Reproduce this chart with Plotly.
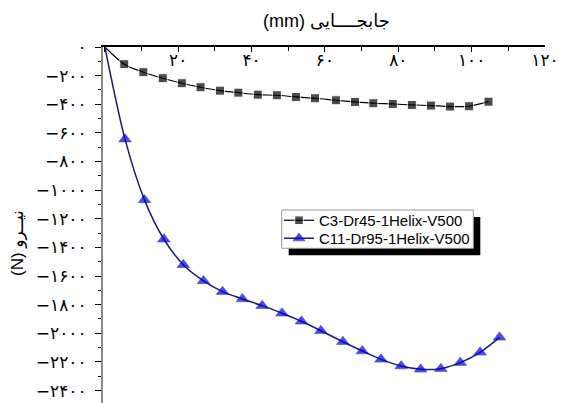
import plotly.graph_objects as go

# ---- data ----
x_c3 = [0, 5.3, 10.5, 15.8, 21.0, 26.1, 31.4, 36.4, 41.7, 46.9, 52.1, 57.3, 63.0, 68.2,
        73.2, 78.5, 83.7, 88.9, 94.1, 99.3, 104.6]
y_c3 = [0, -120, -176, -218, -253, -281, -305, -319, -333, -337, -349, -358, -372, -384,
        -393, -398, -405, -409, -416, -414, -382]

x_c11 = [0, 5.5, 10.8, 16.1, 21.4, 26.9, 32.1, 37.5, 42.9, 48.3, 53.6, 58.9, 64.9, 70.2,
         75.3, 80.8, 86.1, 91.6, 96.9, 102.3, 107.6]
y_c11 = [0, -644, -1068, -1343, -1521, -1634, -1709, -1760, -1807, -1860, -1916, -1982,
         -2059, -2124, -2182, -2229, -2252, -2247, -2205, -2133, -2028]

name_c3 = "C3-Dr45-1Helix-V500"
name_c11 = "C11-Dr95-1Helix-V500"

x_tickvals = [0, 20, 40, 60, 80, 100, 120]
x_ticktext = ["", "۲۰", "۴۰", "۶۰", "۸۰", "۱۰۰", "۱۲۰"]
y_tickvals = [0, -200, -400, -600, -800, -1000, -1200, -1400, -1600, -1800, -2000, -2200, -2400]
y_ticktext = ["۰", "−۲۰۰", "−۴۰۰", "−۶۰۰", "−۸۰۰", "−۱۰۰۰", "−۱۲۰۰", "−۱۴۰۰", "−۱۶۰۰",
              "−۱۸۰۰", "−۲۰۰۰", "−۲۲۰۰", "−۲۴۰۰"]

x_title = "(mm) جابجــــایی"
y_title = "(N) نیــرو"

W, H = 561, 403
L, R, T, B = 103, 16, 47, 0

def px2paper_x(px):
    return (px - L) / (W - L - R)

def px2paper_y(py):
    return (H - B - py) / (H - T - B)

fig = go.Figure()
fig.add_trace(go.Scatter(
    x=x_c3, y=y_c3, name=name_c3, mode="lines+markers", legend="legend",
    line=dict(color="black", width=1.2, shape="spline", smoothing=0.8),
    marker=dict(symbol="square", color="black", size=[0] + [9] * (len(x_c3) - 1)),
))
fig.add_trace(go.Scatter(
    x=x_c11, y=y_c11, name=name_c11, mode="lines+markers", legend="legend2",
    line=dict(color="#1c1c78", width=1.5, shape="spline", smoothing=0.8),
    marker=dict(symbol="triangle-up", color="#0000dd", size=[0] + [11] * (len(x_c11) - 1),
                line=dict(color="#0000aa", width=0.6)),
))

# legend frame + shadow
lx0, ly0, lx1, ly1 = 281.7, 210, 473.3, 248.3
sh = 7
fig.add_shape(type="rect", xref="paper", yref="paper",
              x0=px2paper_x(lx0 + sh), x1=px2paper_x(lx1 + sh),
              y0=px2paper_y(ly1 + sh), y1=px2paper_y(ly0 + sh),
              fillcolor="black", line=dict(width=0), layer="above")
fig.add_shape(type="rect", xref="paper", yref="paper",
              x0=px2paper_x(lx0), x1=px2paper_x(lx1),
              y0=px2paper_y(ly1), y1=px2paper_y(ly0),
              fillcolor="white", line=dict(color="#999999", width=1), layer="above")

fig.add_annotation(text=x_title, xref="paper", yref="paper",
                   x=px2paper_x(326), y=px2paper_y(21), showarrow=False,
                   font=dict(family="Arial, DejaVu Sans", size=18, color="black"),
                   xanchor="center", yanchor="middle")
fig.add_annotation(text=y_title, xref="paper", yref="paper",
                   x=px2paper_x(17), y=px2paper_y(243), showarrow=False, textangle=-90,
                   font=dict(family="Arial, DejaVu Sans", size=17, color="black"),
                   xanchor="center", yanchor="middle")

leg_common = dict(xanchor="left", yanchor="middle", bgcolor="rgba(0,0,0,0)", borderwidth=0,
                  font=dict(family="Arial, Liberation Sans", size=15, color="black"),
                  itemwidth=30)

fig.update_layout(
    width=W, height=H,
    margin=dict(l=L, r=R, t=T, b=B, pad=0),
    plot_bgcolor="white", paper_bgcolor="white",
    font=dict(family="DejaVu Sans, Arial", color="black"),
    showlegend=True,
    legend=dict(x=px2paper_x(279), y=px2paper_y(220.5), **leg_common),
    legend2=dict(x=px2paper_x(279), y=px2paper_y(238.5), **leg_common),
    xaxis=dict(range=[-0.5, 120], side="top", showline=True, linecolor="black", linewidth=2,
               ticks="inside", ticklen=5, tickwidth=1.2, tickcolor="black",
               tickvals=x_tickvals, ticktext=x_ticktext,
               ticklabelposition="inside", ticklabeloverflow="allow", ticklabelstandoff=3,
               tickfont=dict(family="DejaVu Sans", size=17, color="black"),
               minor=dict(ticks="inside", ticklen=4, tickcolor="black", dtick=10, tick0=0),
               showgrid=False, zeroline=False, mirror=False),
    yaxis=dict(range=[-2487, 0], showline=True, linecolor="#888888", linewidth=2,
               ticks="outside", ticklen=6, tickwidth=1.2, tickcolor="black",
               tickvals=y_tickvals, ticktext=y_ticktext,
               tickfont=dict(family="DejaVu Sans", size=17, color="black"),
               ticklabelstandoff=5,
               minor=dict(ticks="outside", ticklen=3, tickcolor="black", dtick=100, tick0=0),
               showgrid=False, zeroline=False),
)

fig.write_html("out.html")
